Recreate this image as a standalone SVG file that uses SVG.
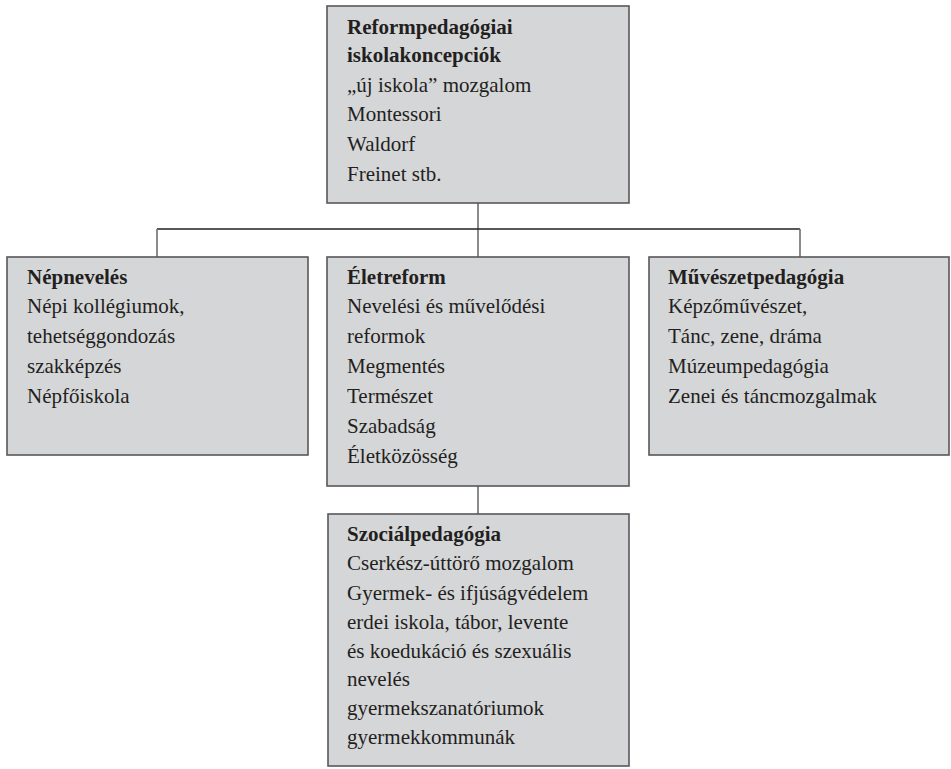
<svg xmlns="http://www.w3.org/2000/svg" width="951" height="769" viewBox="0 0 951 769">
<style>
.box{fill:#d5d6d8;stroke:#58585a;stroke-width:1.6}
.t{font-family:"Liberation Serif","DejaVu Serif",serif;font-size:21px;fill:#231f20}
.b{font-weight:bold}
.h{stroke:#231f20;stroke-width:1.3;fill:none}
.v{stroke:#6d6e70;stroke-width:1.6;fill:none}
</style>
<rect width="951" height="769" fill="#ffffff"/>
<g id="connectors">
<line class="v" x1="478" y1="203" x2="478" y2="257"/>
<line class="h" x1="157" y1="229" x2="800" y2="229"/>
<line class="v" x1="157" y1="229" x2="157" y2="257"/>
<line class="v" x1="800" y1="229" x2="800" y2="257"/>
<line class="v" x1="478" y1="486" x2="478" y2="514"/>
</g>
<g id="reform">
<rect class="box" x="327" y="6" width="302" height="197"/>
<text class="t b" x="347" y="34">Reformpedagógiai</text>
<text class="t b" x="347" y="62">iskolakoncepciók</text>
<text class="t" x="347" y="92">„új iskola” mozgalom</text>
<text class="t" x="347" y="121">Montessori</text>
<text class="t" x="347" y="151">Waldorf</text>
<text class="t" x="347" y="181">Freinet stb.</text>
</g>
<g id="nepneveles">
<rect class="box" x="7" y="257" width="301" height="198"/>
<text class="t b" x="27" y="284">Népnevelés</text>
<text class="t" x="27" y="313">Népi kollégiumok,</text>
<text class="t" x="27" y="343">tehetséggondozás</text>
<text class="t" x="27" y="373">szakképzés</text>
<text class="t" x="27" y="403">Népfőiskola</text>
</g>
<g id="eletreform">
<rect class="box" x="327" y="257" width="302" height="229"/>
<text class="t b" x="347" y="284">Életreform</text>
<text class="t" x="347" y="313">Nevelési és művelődési</text>
<text class="t" x="347" y="343">reformok</text>
<text class="t" x="347" y="373">Megmentés</text>
<text class="t" x="347" y="403">Természet</text>
<text class="t" x="347" y="433">Szabadság</text>
<text class="t" x="347" y="463">Életközösség</text>
</g>
<g id="muveszet">
<rect class="box" x="649" y="257" width="300" height="198"/>
<text class="t b" x="668" y="284">Művészetpedagógia</text>
<text class="t" x="668" y="313">Képzőművészet,</text>
<text class="t" x="668" y="343">Tánc, zene, dráma</text>
<text class="t" x="668" y="373">Múzeumpedagógia</text>
<text class="t" x="668" y="403">Zenei és táncmozgalmak</text>
</g>
<g id="szocial">
<rect class="box" x="328" y="514" width="301" height="252"/>
<text class="t b" x="347" y="541">Szociálpedagógia</text>
<text class="t" x="347" y="570">Cserkész-úttörő mozgalom</text>
<text class="t" x="347" y="600">Gyermek- és ifjúságvédelem</text>
<text class="t" x="347" y="629">erdei iskola, tábor, levente</text>
<text class="t" x="347" y="658">és koedukáció és szexuális</text>
<text class="t" x="347" y="686">nevelés</text>
<text class="t" x="347" y="715">gyermekszanatóriumok</text>
<text class="t" x="347" y="744">gyermekkommunák</text>
</g>
</svg>
